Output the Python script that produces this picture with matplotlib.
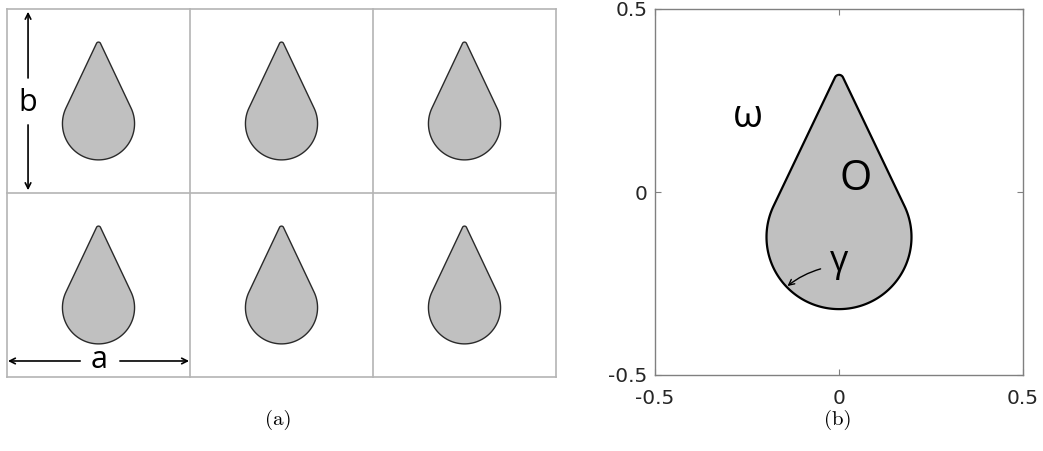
import numpy as np
import matplotlib
matplotlib.use("Agg")
import matplotlib.pyplot as plt
from matplotlib.patches import Polygon

# ---- data ----
n_cols, n_rows = 3, 2               # periodic cells in panel (a)
drop_center = (0.0, -0.123)         # circle centre of the drop (cell units)
drop_radius = 0.197
drop_tip_y = 0.336
tip_round = 0.012
x_ticks = [-0.5, 0, 0.5]
y_ticks = [-0.5, 0, 0.5]
x_ticklabels = ["-0.5", "0", "0.5"]
y_ticklabels = ["-0.5", "0", "0.5"]
captions = ["(a)", "(b)"]
region_labels = {"ω": (-0.247, 0.205), "O": (0.045, 0.035), "γ": (0.0, -0.19)}

fill_col = "#c0c0c0"


def drop_xy(cx, cy):
    r = drop_radius
    d = drop_tip_y - drop_center[1]
    alpha = np.arcsin(r / d)
    a_r = np.pi / 2 - np.arccos(r / d)
    a_l = np.pi - a_r
    big = np.linspace(a_l, a_r + 2 * np.pi, 300)
    bx = cx + r * np.cos(big)
    by = cy + r * np.sin(big)
    rho = tip_round
    sc = cy + d - rho / np.sin(alpha)
    small = np.linspace(a_r, a_l, 40)
    sx = cx + rho * np.cos(small)
    sy = sc + rho * np.sin(small)
    return np.column_stack([np.concatenate([bx, sx]), np.concatenate([by, sy])])


fig = plt.figure(figsize=(10.43, 4.51), dpi=100)

# ---------------- panel (a) ----------------
axa = fig.add_axes([7 / 1043, (451 - 377) / 451, 549 / 1043, 368 / 451])
axa.set_xlim(0, n_cols)
axa.set_ylim(0, n_rows)
axa.axis("off")
grid_col = "#b4b4b4"
for i in range(n_cols + 1):
    axa.plot([i, i], [0, n_rows], color=grid_col, lw=1.2, clip_on=False)
for j in range(n_rows + 1):
    axa.plot([0, n_cols], [j, j], color=grid_col, lw=1.2, clip_on=False)
for i in range(n_cols):
    for j in range(n_rows):
        xy = drop_xy(i + 0.5 + drop_center[0], j + 0.5 + drop_center[1])
        axa.add_patch(Polygon(xy, closed=True, facecolor=fill_col,
                              edgecolor="#2a2a2a", lw=1.0))

lab_font = ["Open Sans", "DejaVu Sans"]
ap = dict(arrowstyle="->", color="black", lw=1.2, shrinkA=0, shrinkB=0)
# vertical arrow b
axa.annotate("", xy=(0.115, 1.985), xytext=(0.115, 1.625), arrowprops=ap,
             annotation_clip=False)
axa.annotate("", xy=(0.115, 1.015), xytext=(0.115, 1.37), arrowprops=ap,
             annotation_clip=False)
axa.text(0.115, 1.49, "b", ha="center", va="center", fontsize=22, family=lab_font)
# horizontal arrow a
axa.annotate("", xy=(0.005, 0.087), xytext=(0.40, 0.087), arrowprops=ap,
             annotation_clip=False)
axa.annotate("", xy=(0.995, 0.087), xytext=(0.617, 0.087), arrowprops=ap,
             annotation_clip=False)
axa.text(0.503, 0.095, "a", ha="center", va="center", fontsize=22, family=lab_font)

# ---------------- panel (b) ----------------
axb = fig.add_axes([655 / 1043, (451 - 375) / 451, 368 / 1043, 366 / 451])
axb.set_xlim(-0.5, 0.5)
axb.set_ylim(-0.5, 0.5)
axb.add_patch(Polygon(drop_xy(*drop_center), closed=True, facecolor=fill_col,
                      edgecolor="black", lw=1.6))
axb.set_xticks(x_ticks)
axb.set_xticklabels(x_ticklabels)
axb.set_yticks(y_ticks)
axb.set_yticklabels(y_ticklabels)
axb.tick_params(direction="in", length=4, width=0.8, color="#808080",
                top=True, right=True, labelsize=14.5, labelcolor="#262626")
axb.tick_params(axis="x", pad=10)
axb.tick_params(axis="y", pad=5.5)
for s in axb.spines.values():
    s.set_color("#808080")
    s.set_linewidth(1.0)

sizes = {"ω": 28, "O": 30, "γ": 26}
for k, (x, y) in region_labels.items():
    axb.text(x, y, k, ha="center", va="center", fontsize=sizes[k], family=lab_font)
axb.annotate("", xy=(-0.14, -0.257), xytext=(-0.05, -0.21),
             arrowprops=dict(arrowstyle="->", color="black", lw=1.0,
                             connectionstyle="arc3,rad=0.1", shrinkA=0, shrinkB=0))

# captions
fig.text(278 / 1043, 1 - 420 / 451, captions[0], ha="center", va="center",
         fontsize=15, family="cmr10")
fig.text(838 / 1043, 1 - 420 / 451, captions[1], ha="center", va="center",
         fontsize=15, family="cmr10")

fig.savefig("out.png", dpi=100)
